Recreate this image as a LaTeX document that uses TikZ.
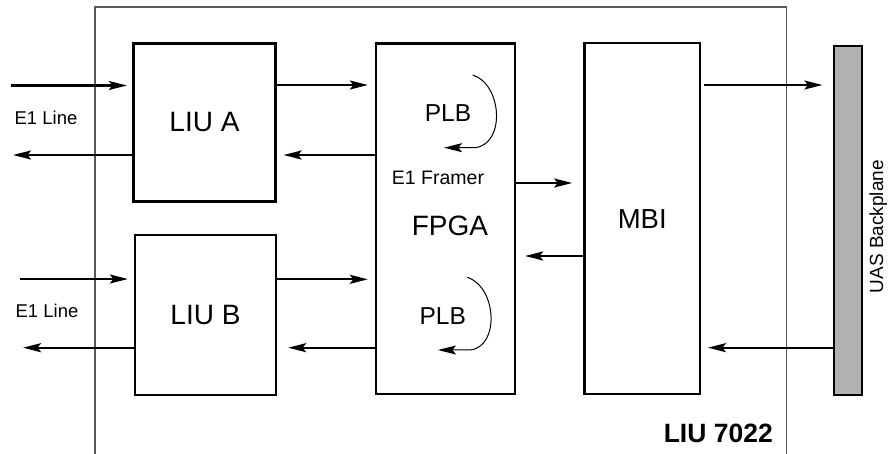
\documentclass[tikz,border=0pt]{standalone}
\usepackage{fontspec}
\setmainfont{Liberation Sans}
\usepackage{tikz}
\usetikzlibrary{arrows.meta,positioning,calc}
\newcommand{\fs}[1]{\fontsize{#1}{#1}\selectfont}

\begin{document}
\begin{tikzpicture}[x=1pt,y=-1pt,
    blk/.style={draw, line width=2.3pt, inner sep=0pt, font=\fs{28}},
    sig/.style={line width=2.3pt, -{Stealth[length=18pt,width=9pt,inset=3.5pt]}},
    loop/.style={line width=1pt, -{Stealth[length=18pt,width=9pt,inset=3.5pt,line width=1.2pt]}},
    lbl/.style={inner sep=0pt, font=\fs{18.5}}]
  \useasboundingbox (0,0) rectangle (889,454);
  % board outline
  \draw[line width=1.3pt, black!65] (95,454) -- (95,7) -- (786.7,7) -- (786.7,454);
  % blocks
  \node[blk, minimum width=142pt, minimum height=158pt] (liuA) at (204.5,122.5) {LIU A};
  \node[blk, minimum width=141pt, minimum height=160pt] (liuB) at (205.5,314.8) {LIU B};
  \node[blk, minimum width=139pt, minimum height=350.5pt] (fpga) at (445.5,218.8) {};
  \node[blk, font=\fs{27.5}, minimum width=115.7pt, minimum height=350.7pt] (mbi) at (642.2,218.7) {MBI};
  \node[draw, line width=1.8pt, fill=black!30, inner sep=0pt,
        minimum width=28pt, minimum height=349.3pt] (bp) at (848.3,220.3) {};
  % texts
  \node[lbl] (lineA) at (46,118) {E1 Line};
  \node[lbl] (lineB) at (47,310.7) {E1 Line};
  \node[lbl, font=\fs{24.5}] (plbA) at (448,113) {PLB};
  \node[lbl, font=\fs{19.5}] (framer) at (438,178) {E1 Framer};
  \node[lbl, font=\fs{28}] (fpgatxt) at (450,226) {FPGA};
  \node[lbl, font=\fs{24.5}] (plbB) at (442.7,315.7) {PLB};
  \node[lbl, font=\fs{19}, rotate=90] (bptxt) at (878.3,226.7) {UAS Backplane};
  \node[lbl, font=\bfseries\fs{26.5}] (card) at (718.3,433.3) {LIU 7022};
  % line side
  \coordinate (inA) at (11,85.5);
  \coordinate (outA) at (13,155);
  \coordinate (inB) at (20,279);
  \coordinate (outB) at (23,347.7);
  \draw[sig, shorten >=5.5pt] (inA) -- (inA -| liuA.west);
  \draw[sig] (outA -| liuA.west) -- (outA);
  \draw[sig, shorten >=6pt] (inB) -- (inB -| liuB.west);
  \draw[sig] (outB -| liuB.west) -- (outB);
  % LIU <-> FPGA
  \draw[sig, shorten >=7pt] (liuA.east |- 0,85) -- (fpga.west |- 0,85);
  \draw[sig, shorten >=7pt] (fpga.west |- 0,155) -- (liuA.east |- 0,155);
  \draw[sig, shorten >=7pt] (liuB.east |- 0,279.3) -- (fpga.west |- 0,279.3);
  \draw[sig, shorten >=11pt] (fpga.west |- 0,347.7) -- (liuB.east |- 0,347.7);
  % FPGA <-> MBI
  \draw[sig, shorten >=11pt] (fpga.east |- 0,183) -- (mbi.west |- 0,183);
  \draw[sig, shorten >=9pt] (mbi.west |- 0,256) -- (fpga.east |- 0,256);
  % MBI <-> backplane
  \draw[sig, shorten <=2.7pt, shorten >=11pt] (mbi.east |- 0,85) -- (bp.west |- 0,85);
  \draw[sig, shorten >=6.7pt] (bp.west |- 0,347.7) -- (mbi.east |- 0,347.7);
  % payload loopbacks
  \draw[loop] (472.7,75) .. controls (502,84) and (506,144) .. (475,147.7) -- (444,147.7);
  \draw[loop] (467.3,277.3) .. controls (497,287) and (500,347) .. (470,350) -- (438,350);
\end{tikzpicture}
\end{document}
